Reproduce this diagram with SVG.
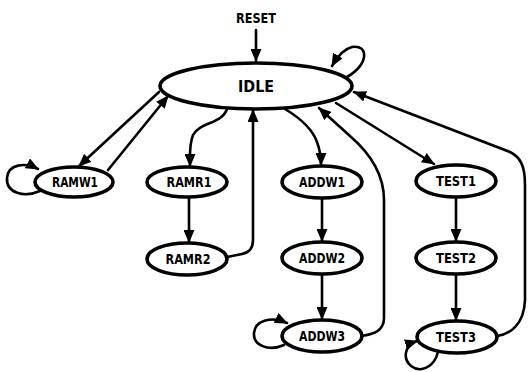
<svg xmlns="http://www.w3.org/2000/svg" width="528" height="372" viewBox="0 0 528 372">
<style>
.node ellipse{fill:#fff;stroke:#000;stroke-width:3.6}
.lbl{font-family:"Liberation Sans Narrow","DejaVu Sans Condensed","Liberation Sans",sans-serif;font-weight:bold;font-size:14px;text-anchor:middle;fill:#000}
.edges path{fill:none;stroke:#000;stroke-width:2.6;stroke-linecap:round;stroke-linejoin:round}
.arr{marker-end:url(#ah)}
</style>
<defs>
<marker id="ah" markerUnits="userSpaceOnUse" markerWidth="13" markerHeight="11" viewBox="0 0 13 11" refX="12" refY="5.5" orient="auto">
<path d="M0,0 L13,5.5 L0,11 z" fill="#000"/>
</marker>
</defs>
<rect width="528" height="372" fill="#fff"/>
<g class="edges" id="connectors">
<path class="arr" d="M256,30 L256,61"/>
<path class="arr" d="M347,77 C370,64 368,44 352,47 C344,49 337,57 332,66"/>
<path class="arr" d="M159,92 L79,166"/>
<path class="arr" d="M108,170 L168,96"/>
<path class="arr" d="M40,191 C24,198 6,193 7,178 C8,164 25,162 38,169"/>
<path class="arr" d="M227,109 C222,124 200,122 193,135 C189,145 190,156 190,166"/>
<path class="arr" d="M189,197 L189,242"/>
<path class="arr" d="M227,257 L242,254 Q253,252 253,240 L253,110"/>
<path class="arr" d="M285,109 C300,118 312,128 317,142 C320,150 321,158 321,165"/>
<path class="arr" d="M322,198 L322,241"/>
<path class="arr" d="M322,274 L322,319"/>
<path class="arr" d="M362,336 C372,334 384,332 384,318 L384,200 C384,175 372,155 350,136 L319,108"/>
<path class="arr" d="M336,103 L434,164"/>
<path class="arr" d="M456,197 L456,241"/>
<path class="arr" d="M456,274 L456,320"/>
<path class="arr" d="M497,336 C510,334 524,325 525,300 L525,185 C525,165 520,157 510,152 L354,92"/>
<path class="arr" d="M438,352 C434,368 420,373 411,366 C402,358 405,345 417,341"/>
<path class="arr" d="M284,345 C268,352 253,345 254,333 C255,320 272,316 287,323"/>
</g>
<text class="lbl" x="256" y="23" textLength="40" lengthAdjust="spacingAndGlyphs">RESET</text>
<g class="node" id="IDLE"><ellipse cx="256" cy="86" rx="96" ry="23"/><text class="lbl" x="256" y="92" style="font-size:16px" textLength="36" lengthAdjust="spacingAndGlyphs">IDLE</text></g>
<g class="node" id="RAMW1"><ellipse cx="74" cy="182" rx="39" ry="15"/><text class="lbl" x="75" y="187" textLength="46" lengthAdjust="spacingAndGlyphs">RAMW1</text></g>
<g class="node" id="RAMR1"><ellipse cx="187" cy="182" rx="40" ry="15"/><text class="lbl" x="189" y="187" textLength="45" lengthAdjust="spacingAndGlyphs">RAMR1</text></g>
<g class="node" id="RAMR2"><ellipse cx="187" cy="259" rx="40" ry="16"/><text class="lbl" x="188" y="264" textLength="45" lengthAdjust="spacingAndGlyphs">RAMR2</text></g>
<g class="node" id="ADDW1"><ellipse cx="322" cy="182" rx="40" ry="16"/><text class="lbl" x="322" y="187" textLength="46" lengthAdjust="spacingAndGlyphs">ADDW1</text></g>
<g class="node" id="ADDW2"><ellipse cx="322" cy="258" rx="40" ry="16"/><text class="lbl" x="322" y="263" textLength="46" lengthAdjust="spacingAndGlyphs">ADDW2</text></g>
<g class="node" id="ADDW3"><ellipse cx="322" cy="336" rx="40" ry="16"/><text class="lbl" x="322" y="341" textLength="46" lengthAdjust="spacingAndGlyphs">ADDW3</text></g>
<g class="node" id="TEST1"><ellipse cx="456" cy="181" rx="40" ry="16"/><text class="lbl" x="456" y="186" textLength="40" lengthAdjust="spacingAndGlyphs">TEST1</text></g>
<g class="node" id="TEST2"><ellipse cx="456" cy="258" rx="40" ry="16"/><text class="lbl" x="456" y="263" textLength="40" lengthAdjust="spacingAndGlyphs">TEST2</text></g>
<g class="node" id="TEST3"><ellipse cx="457" cy="337" rx="40" ry="16"/><text class="lbl" x="456" y="342" textLength="40" lengthAdjust="spacingAndGlyphs">TEST3</text></g>
</svg>
